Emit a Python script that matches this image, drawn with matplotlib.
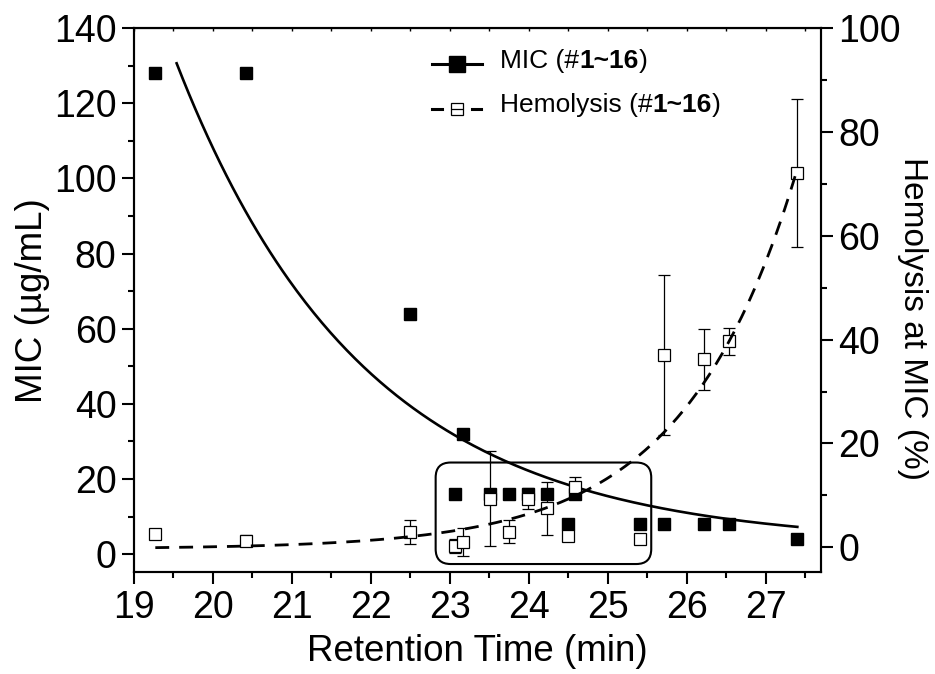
import matplotlib
matplotlib.use('Agg')
import matplotlib.pyplot as plt
import numpy as np
from matplotlib.patches import FancyBboxPatch
from matplotlib.lines import Line2D
from matplotlib.ticker import MultipleLocator
from matplotlib.offsetbox import AnchoredOffsetbox, DrawingArea, HPacker, VPacker, TextArea

plt.rcParams['font.family'] = ['Liberation Sans', 'DejaVu Sans']

# Peptides #1~16, sorted by HPLC retention time (min)
retention = [19.27, 20.42, 22.49, 23.07, 23.16, 23.51, 23.75, 23.99,
             24.23, 24.50, 24.58, 25.41, 25.71, 26.22, 26.54, 27.40]
mic = [128, 128, 64, 16, 32, 16, 16, 16, 16, 8, 16, 8, 8, 8, 8, 4]
hemolysis = [2.6, 1.3, 3.0, 0.3, 1.1, 9.4, 3.0, 9.4,
             7.5, 2.2, 11.7, 1.6, 37.1, 36.2, 39.7, 72.1]
hemolysis_err = [0.3, 1.0, 2.3, 1.3, 2.7, 9.2, 2.2, 2.1,
                 5.1, 0.5, 1.8, 0.6, 15.4, 5.9, 2.6, 14.2]

# Exponential fits: MIC decays, hemolysis grows with retention time
MIC_FIT = dict(base=2.6, amp=128.0, t0=19.54, rate=0.421, t_end=27.4)
HEM_FIT = dict(base=-0.3, amp=73.2, t0=27.4, rate=0.70, t_start=19.27)

fig = plt.figure(figsize=(9.35, 6.74), dpi=100)
ax = fig.add_axes([0.1433, 0.1509, 0.7348, 0.8076])
ax2 = ax.twinx()

# MIC data and fit on the left axis
ax.plot(retention, mic, 's', color='black', ms=9, zorder=3)
t_mic = np.linspace(MIC_FIT['t0'], MIC_FIT['t_end'], 300)
mic_curve = MIC_FIT['base'] + MIC_FIT['amp'] * np.exp(-MIC_FIT['rate'] * (t_mic - MIC_FIT['t0']))
ax.plot(t_mic, mic_curve, '-', color='black', lw=1.9, zorder=2)

# rounded frame around the cluster of compounds
box_x0, box_x1 = 22.82, 25.55
box_y0, box_y1 = -2.6, 24.4
frame = FancyBboxPatch((box_x0, box_y0), box_x1 - box_x0, box_y1 - box_y0,
                       boxstyle='round,pad=0,rounding_size=0.19',
                       mutation_aspect=20.98, fill=False, ec='black', lw=1.5, zorder=1)
ax.add_patch(frame)

# hemolysis data and fit on the right axis
t_hem = np.linspace(HEM_FIT['t_start'], HEM_FIT['t0'], 300)
hem_curve = HEM_FIT['base'] + HEM_FIT['amp'] * np.exp(HEM_FIT['rate'] * (t_hem - HEM_FIT['t0']))
ax2.errorbar(retention, hemolysis, yerr=hemolysis_err, fmt='s', ms=8.5,
             mfc='white', mec='black', mew=0.9, ecolor='black', elinewidth=0.9,
             capsize=4.5, capthick=0.9, zorder=3)
ax2.plot(t_hem, hem_curve, color='black', lw=2.0, ls=(0, (5, 3.6)), zorder=4)

# axes limits and ticks
ax.set_xlim(19, 27.7)
ax.set_ylim(-4.8, 140)
ax2.set_ylim(-4.8, 100)
ax.set_xticks(range(19, 28))
ax.xaxis.set_minor_locator(MultipleLocator(0.5))
ax.set_yticks(range(0, 141, 20))
ax.yaxis.set_minor_locator(MultipleLocator(10))
ax2.set_yticks(range(0, 101, 20))
ax2.yaxis.set_minor_locator(MultipleLocator(10))

for a in (ax, ax2):
    a.tick_params(which='major', direction='out', length=8.5, width=1.5, labelsize=27, pad=4)
    a.tick_params(which='minor', direction='out', length=4.5, width=1.5)
    for s in a.spines.values():
        s.set_linewidth(1.5)

top = ax.secondary_xaxis('top')
top.set_xticks(range(19, 28))
top.xaxis.set_minor_locator(MultipleLocator(0.5))
top.tick_params(which='both', direction='in', length=2.5, width=1.0, labeltop=False)

# axis titles placed by their centres
ax.set_xlabel('Retention Time (min)', fontsize=26.5, ha='center', va='center')
ax.xaxis.set_label_coords(0.5, -0.146)
ax.set_ylabel('MIC (µg/mL)', fontsize=26.5, ha='center', va='center')
ax.yaxis.set_label_coords(-0.147, 0.5)
ax2.set_ylabel('Hemolysis at MIC (%)', fontsize=24, rotation=270, ha='center', va='center')
ax2.yaxis.set_label_coords(1.1325, 0.467)

# legend with a bold compound range
def legend_row(handle, name):
    txt = HPacker(children=[TextArea(name + ' (#', textprops=dict(fontsize=19)),
                            TextArea('1~16', textprops=dict(fontsize=19, fontweight='bold')),
                            TextArea(')', textprops=dict(fontsize=19))],
                  sep=0, pad=0, align='baseline')
    return HPacker(children=[handle, txt], sep=13, pad=0, align='bottom')

h_mic = DrawingArea(36, 12, 0, 0)
h_mic.add_artist(Line2D([0, 36], [6, 6], color='black', lw=2.2))
h_mic.add_artist(Line2D([18], [6], marker='s', ms=11, color='black'))

h_hem = DrawingArea(36, 12, 0, 0)
h_hem.add_artist(Line2D([0, 7], [6, 6], color='black', lw=2.2))
h_hem.add_artist(Line2D([29, 35], [6, 6], color='black', lw=2.2))
h_hem.add_artist(Line2D([18], [6], marker='s', ms=9, mfc='white', mec='black', mew=0.9))
h_hem.add_artist(Line2D([14.5, 21.5], [6, 6], color='black', lw=0.9))

legend_box = VPacker(children=[legend_row(h_mic, 'MIC'), legend_row(h_hem, 'Hemolysis')],
                     sep=15, pad=0, align='left')
anchored = AnchoredOffsetbox(loc='upper left', child=legend_box, pad=0, borderpad=0,
                             frameon=False, bbox_to_anchor=(0.434, 0.962),
                             bbox_transform=ax.transAxes)
ax2.add_artist(anchored)

fig.savefig('out.png', dpi=100)
